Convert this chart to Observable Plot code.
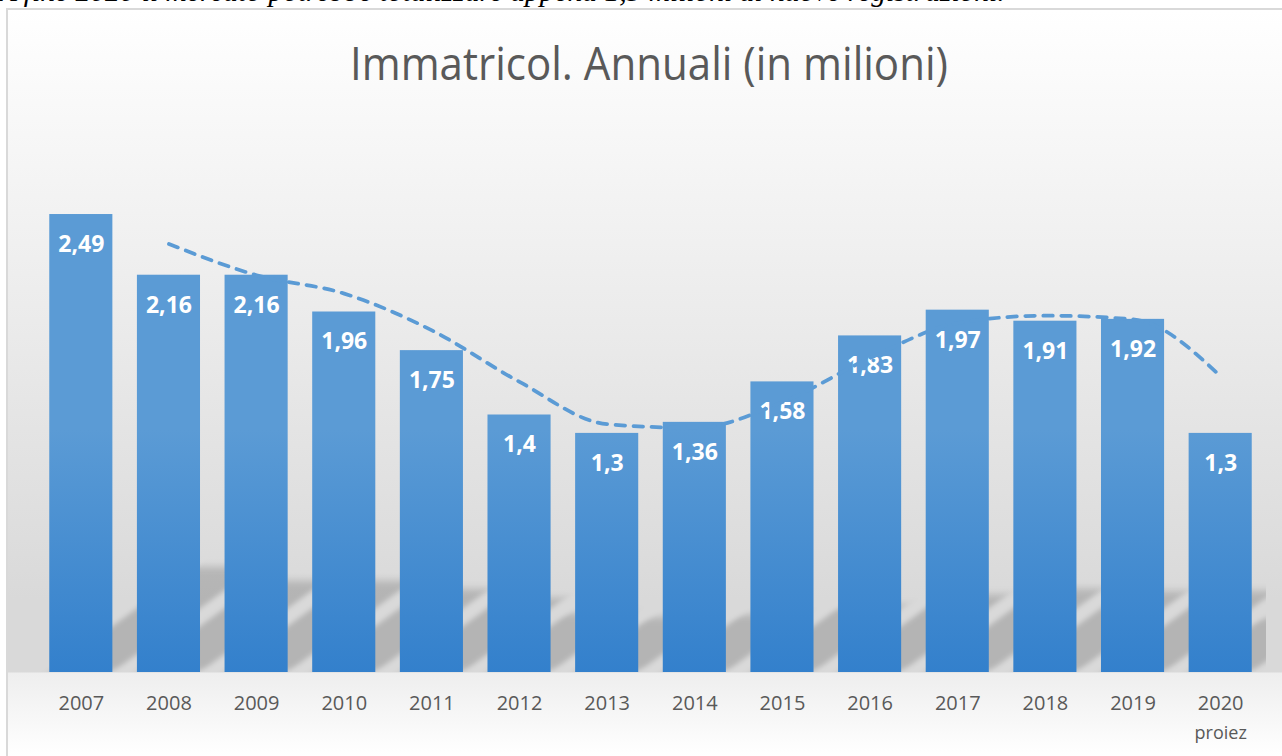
<!DOCTYPE html>
<html><head><meta charset="utf-8">
<script src="https://cdn.jsdelivr.net/npm/d3@7"></script>
<script src="https://cdn.jsdelivr.net/npm/@observablehq/plot@0.6"></script>
<style>
html,body{margin:0;padding:0;background:#fff;overflow:hidden;}
#page{position:relative;width:1282px;height:756px;overflow:hidden;background:#fff;}
#chartbox{position:absolute;left:6px;top:8px;width:1290px;height:760px;border-left:2px solid #d9d9d9;border-top:2px solid #d9d9d9;
 background:linear-gradient(to bottom,#ffffff 0px,#d9d9d9 590px,#d9d9d9 662px,#eeeeee 663px,#ffffff 746px);}
#note{position:absolute;left:-1px;top:-25px;font-family:"Liberation Serif",serif;font-style:italic;font-size:24px;white-space:nowrap;color:#000;}
#titlewrap{position:absolute;top:32px;left:0;width:1282px;height:60px;}
#title{position:absolute;left:649px;top:0;font-family:"Open Sans",sans-serif;font-size:45px;color:#595959;white-space:nowrap;transform-origin:0 0;}
#chart{position:absolute;left:0;top:100px;}
</style></head>
<body>
<div id="page">
  <div id="chartbox"></div>
  <div id="note">A fine 2020 il mercato potrebbe totalizzare appena 1,3 milioni di nuove registrazioni.</div>
  <div id="titlewrap"><span id="title">Immatricol. Annuali (in milioni)</span></div>
  <div id="chart"></div>
</div>
<script>
// ---- data ----
const years = ["2007","2008","2009","2010","2011","2012","2013","2014","2015","2016","2017","2018","2019","2020"];
const values = [2.49, 2.16, 2.16, 1.96, 1.75, 1.4, 1.3, 1.36, 1.58, 1.83, 1.97, 1.91, 1.92, 1.3];
const trendYears = ["2008","2009","2010","2011","2012","2013","2014","2015","2016","2017","2018","2019","2020"];
const trendValues = [2.33, 2.16, 2.06, 1.86, 1.58, 1.35, 1.33, 1.47, 1.71, 1.90, 1.94, 1.92, 1.61];
const subLabels = {"2020": "proiez"};

const table = years.map((y, i) => ({year: y, value: values[i]}));
const trend = trendYears.map((y, i) => ({year: y, value: trendValues[i]}));
const subs = Object.keys(subLabels).map(k => ({year: k, text: subLabels[k]}));

// ---- layout helpers ----
const note = document.getElementById("note");
const nw = note.getBoundingClientRect().width;
note.style.fontSize = (24 * 1006 / nw) + "px";

const title = document.getElementById("title");
const tw = title.getBoundingClientRect().width;
const sx = 598 / tw;
title.style.transform = `scaleX(${sx}) translateX(${-tw / 2}px)`;

const H = 640, mTop = 57, mBottom = 68;
const base = H - mBottom;
const shadowRatio = 0.23;

const chart = Plot.plot({
  width: 1282,
  height: H,
  marginTop: mTop,
  marginBottom: mBottom,
  marginLeft: 37,
  marginRight: 18,
  style: {background: "transparent", fontFamily: "'Open Sans', sans-serif", color: "#595959", overflow: "visible"},
  x: {domain: years, paddingInner: 0.28, paddingOuter: 0.14, round: false, axis: null},
  y: {domain: [0, 2.8], axis: null},
  marks: [
    Plot.barY(table, {x: "year", y1: d => 0, y2: d => d.value * shadowRatio, fill: "#000", fillOpacity: 0.17}),
    Plot.barY(table, {x: "year", y: "value", fill: "url(#barGrad)"}),
    Plot.text(table, {x: "year", y: "value", text: d => String(d.value).replace(".", ","), dy: 30,
      fill: "white", fontWeight: "bold", fontSize: 23}),
    Plot.line(trend, {x: "year", y: "value", curve: "monotone-x", stroke: "#5b9bd5", strokeWidth: 3.75,
      strokeDasharray: "9.5,8.5", strokeLinecap: "round"}),
    Plot.text(years, {x: d => d, frameAnchor: "bottom", dy: 37, fill: "#595959", fontSize: 20}),
    Plot.text(subs, {x: "year", text: "text", frameAnchor: "bottom", dy: 66, fill: "#595959", fontSize: 18})
  ]
});
document.getElementById("chart").appendChild(chart);

// ---- gradient + shadow decorations ----
const svg = d3.select(chart);
const defs = svg.insert("defs", ":first-child");
const g = defs.append("linearGradient").attr("id", "barGrad").attr("gradientUnits", "userSpaceOnUse")
  .attr("x1", 0).attr("x2", 0).attr("y1", 330).attr("y2", base);
g.append("stop").attr("offset", 0).attr("stop-color", "#5b9bd5");
g.append("stop").attr("offset", 1).attr("stop-color", "#3380cc");
defs.append("filter").attr("id", "blur").attr("x", "-30%").attr("y", "-30%").attr("width", "160%").attr("height", "160%")
  .append("feGaussianBlur").attr("stdDeviation", 4);
defs.append("clipPath").attr("id", "floorClip").append("rect")
  .attr("x", 0).attr("y", 0).attr("width", 1266).attr("height", base);
const shadowG = chart.querySelector('g[aria-label="bar"]');
const clipG = document.createElementNS("http://www.w3.org/2000/svg", "g");
const wrap = document.createElementNS("http://www.w3.org/2000/svg", "g");
shadowG.parentNode.insertBefore(clipG, shadowG);
clipG.appendChild(wrap);
wrap.appendChild(shadowG);
clipG.setAttribute("clip-path", "url(#floorClip)");
wrap.setAttribute("filter", "url(#blur)");
wrap.setAttribute("transform", `translate(0,${base}) skewX(-54) translate(0,${-base})`);
</script>
</body></html>
